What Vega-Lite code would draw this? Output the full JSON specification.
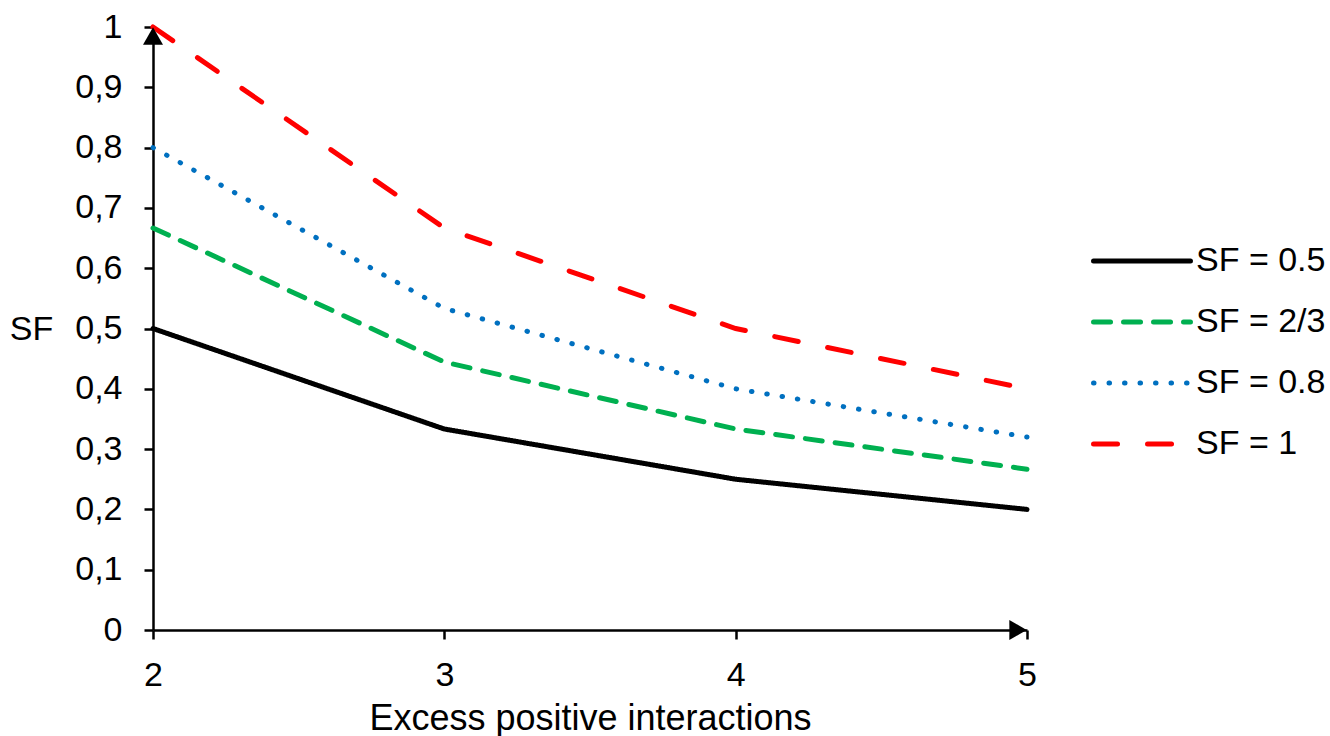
{
  "$schema": "https://vega.github.io/schema/vega-lite/v6.json",
  "width": 874,
  "height": 603,
  "autosize": {"type": "none"},
  "padding": {"left": 153, "top": 27, "right": 303, "bottom": 106},
  "background": "white",
  "config": {
    "view": {"stroke": null},
    "font": "Liberation Sans",
    "axis": {
      "grid": false,
      "domainColor": "black",
      "domainWidth": 2.5,
      "tickColor": "black",
      "tickWidth": 2.5,
      "tickSize": 9,
      "labelFont": "Liberation Sans",
      "labelFontSize": 34,
      "labelColor": "black",
      "labelFlush": false,
      "titleFont": "Liberation Sans",
      "titleFontSize": 36,
      "titleFontWeight": "normal",
      "titleColor": "black"
    }
  },
  "datasets": {
    "series": [
      {"x": 2, "sf": 0.5, "series": "SF = 0.5"},
      {"x": 3, "sf": 0.3333, "series": "SF = 0.5"},
      {"x": 4, "sf": 0.25, "series": "SF = 0.5"},
      {"x": 5, "sf": 0.2, "series": "SF = 0.5"},
      {"x": 2, "sf": 0.6667, "series": "SF = 2/3"},
      {"x": 3, "sf": 0.4444, "series": "SF = 2/3"},
      {"x": 4, "sf": 0.3333, "series": "SF = 2/3"},
      {"x": 5, "sf": 0.2667, "series": "SF = 2/3"},
      {"x": 2, "sf": 0.8, "series": "SF = 0.8"},
      {"x": 3, "sf": 0.5333, "series": "SF = 0.8"},
      {"x": 4, "sf": 0.4, "series": "SF = 0.8"},
      {"x": 5, "sf": 0.32, "series": "SF = 0.8"},
      {"x": 2, "sf": 1.0, "series": "SF = 1"},
      {"x": 3, "sf": 0.6667, "series": "SF = 1"},
      {"x": 4, "sf": 0.5, "series": "SF = 1"},
      {"x": 5, "sf": 0.4, "series": "SF = 1"}
    ],
    "arrows": [
      {"x": 2, "sf": 1, "dir": "up"},
      {"x": 5, "sf": 0, "dir": "right"}
    ]
  },
  "layer": [
    {
      "data": {"name": "series"},
      "mark": {"type": "line", "strokeWidth": 5, "strokeCap": "round", "clip": false},
      "encoding": {
        "x": {
          "field": "x", "type": "quantitative",
          "scale": {"domain": [2, 5], "nice": false, "zero": false},
          "axis": {
            "values": [2, 3, 4, 5],
            "format": "d",
            "labelPadding": 19,
            "title": "Excess positive interactions",
            "titlePadding": 9
          }
        },
        "y": {
          "field": "sf", "type": "quantitative",
          "scale": {"domain": [0, 1], "nice": false},
          "axis": {
            "values": [0, 0.1, 0.2, 0.3, 0.4, 0.5, 0.6, 0.7, 0.8, 0.9, 1],
            "labelExpr": "replace(format(datum.value, '.1~f'), '.', ',')",
            "labelPadding": 22,
            "title": "SF",
            "titleAngle": 0,
            "titleX": -122,
            "titleY": 302,
            "titleAlign": "center",
            "titleBaseline": "middle",
            "titleFontSize": 34
          }
        },
        "color": {
          "field": "series", "type": "nominal",
          "scale": {
            "domain": ["SF = 0.5", "SF = 2/3", "SF = 0.8", "SF = 1"],
            "range": ["#000000", "#00B050", "#0070C0", "#FF0000"]
          },
          "legend": {
            "title": null,
            "orient": "none",
            "legendX": 938,
            "legendY": 209,
            "symbolType": "stroke",
            "symbolSize": 9400,
            "symbolStrokeWidth": 5,
            "labelFont": "Liberation Sans",
            "labelFontSize": 34,
            "labelColor": "black",
            "labelOffset": 3,
            "clipHeight": 50,
            "rowPadding": 11,
            "encode": {"symbols": {"update": {"strokeCap": {"value": "round"}}}}
          }
        },
        "strokeDash": {
          "field": "series", "type": "nominal",
          "scale": {
            "domain": ["SF = 0.5", "SF = 2/3", "SF = 0.8", "SF = 1"],
            "range": [[1, 0], [17, 13], [0.5, 15], [24, 30]]
          },
          "legend": null
        }
      }
    },
    {
      "data": {"name": "arrows"},
      "transform": [{"filter": "datum.dir === 'up'"}],
      "mark": {"type": "point", "shape": "triangle-up", "filled": true, "color": "black", "size": 400, "opacity": 1, "yOffset": 9, "clip": false},
      "encoding": {
        "x": {"field": "x", "type": "quantitative"},
        "y": {"field": "sf", "type": "quantitative"}
      }
    },
    {
      "data": {"name": "arrows"},
      "transform": [{"filter": "datum.dir === 'right'"}],
      "mark": {"type": "point", "shape": "triangle-right", "filled": true, "color": "black", "size": 400, "opacity": 1, "xOffset": -9, "clip": false},
      "encoding": {
        "x": {"field": "x", "type": "quantitative"},
        "y": {"field": "sf", "type": "quantitative"}
      }
    }
  ]
}
